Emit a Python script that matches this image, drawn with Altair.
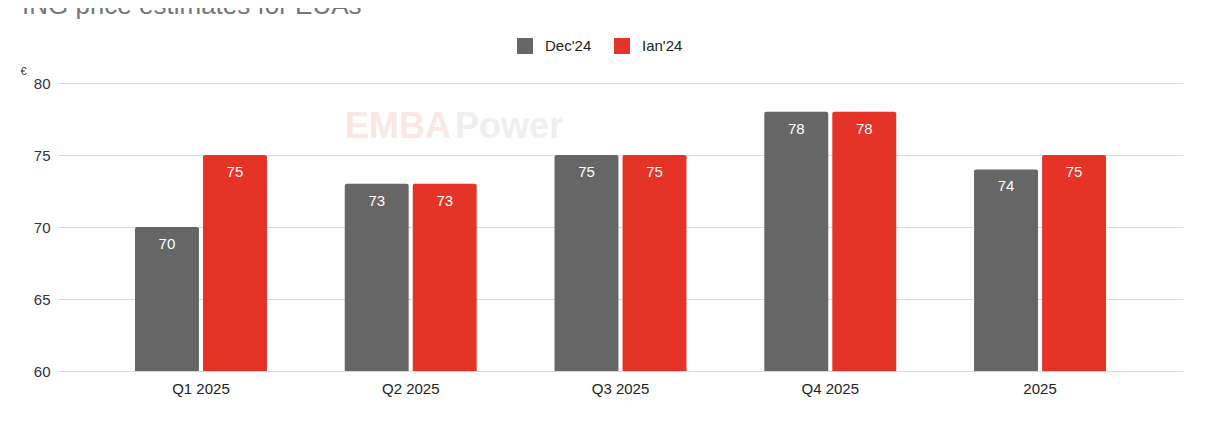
import altair as alt
import pandas as pd

categories = ["Q1 2025", "Q2 2025", "Q3 2025", "Q4 2025", "2025"]
dec24 = [70, 73, 75, 78, 74]
ian24 = [75, 73, 75, 78, 75]
series_names = ["Dec'24", "Ian'24"]
colors = ["#666666", "#e63327"]

rows = []
for c, a, b in zip(categories, dec24, ian24):
    rows.append({"cat": c, "series": series_names[0], "value": a})
    rows.append({"cat": c, "series": series_names[1], "value": b})
df = pd.DataFrame(rows)

FONT = "Liberation Sans"

x_enc = alt.X("cat:N", sort=categories, title=None,
              scale=alt.Scale(paddingInner=0.371, paddingOuter=0.367),
              axis=alt.Axis(labelFontSize=15, labelColor="#222222", labelPadding=10,
                            ticks=False, domain=False, labelAngle=0, labelFont=FONT))
xo_enc = alt.XOffset("series:N", sort=series_names,
                     scale=alt.Scale(paddingInner=0.06))
y_enc = alt.Y("value:Q", scale=alt.Scale(domain=[60, 80], zero=False),
              axis=alt.Axis(values=[60, 65, 70, 75, 80], labelFontSize=15, labelColor="#333333",
                            labelPadding=8, ticks=False, domain=False, gridColor="#d9d9d9",
                            labelFont=FONT, title="€", titleAngle=0, titleFontSize=11,
                            titleFontWeight="normal", titleColor="#333333", titleFont=FONT,
                            titleX=-38, titleY=-7, titleAlign="left"))

bars = alt.Chart(df).mark_bar(cornerRadiusTopLeft=2, cornerRadiusTopRight=2).encode(
    x=x_enc, xOffset=xo_enc, y=y_enc, y2=alt.datum(60),
    color=alt.Color("series:N", sort=series_names,
                    scale=alt.Scale(domain=series_names, range=colors),
                    legend=alt.Legend(title=None, orient="none", direction="horizontal",
                                      legendX=459, legendY=-45, symbolType="square",
                                      symbolSize=256, symbolStrokeWidth=0, labelFontSize=15,
                                      labelColor="#222222", labelFont=FONT, labelOffset=12,
                                      columnPadding=22, symbolOpacity=1)),
)

labels = alt.Chart(df).mark_text(color="white", fontSize=15, baseline="middle", dy=17, font=FONT).encode(
    x=alt.X("cat:N", sort=categories), xOffset=alt.XOffset("series:N", sort=series_names),
    y="value:Q", text="value:Q",
)

title_df = pd.DataFrame({"t": ["ING price estimates for EUAs"]})
title = alt.Chart(title_df).mark_text(align="left", baseline="alphabetic", fontSize=26,
                                      color="#757575", font=FONT).encode(
    x=alt.value(-36), y=alt.value(-69), text="t:N")

wm_df = pd.DataFrame({"t": ["EMBA"], "u": ["Power"]})
wm1 = alt.Chart(wm_df).mark_text(align="left", baseline="alphabetic", fontSize=36, fontWeight="bold",
                                 color="#fbe7e5", font=FONT).encode(
    x=alt.value(287), y=alt.value(55), text="t:N")
wm2 = alt.Chart(wm_df).mark_text(align="left", baseline="alphabetic", fontSize=36, fontWeight="bold",
                                 color="#efefef", font=FONT).encode(
    x=alt.value(397), y=alt.value(55), text="u:N")

chart = alt.layer(wm1, wm2, bars, labels, title).properties(
    width=1125, height=288,
    autosize=alt.AutoSizeParams(type="none"),
    padding={"left": 50, "top": 75, "right": 19, "bottom": 40},
).configure_view(stroke=None)

chart.save("out.html", embed_options={"renderer": "svg", "actions": False})
